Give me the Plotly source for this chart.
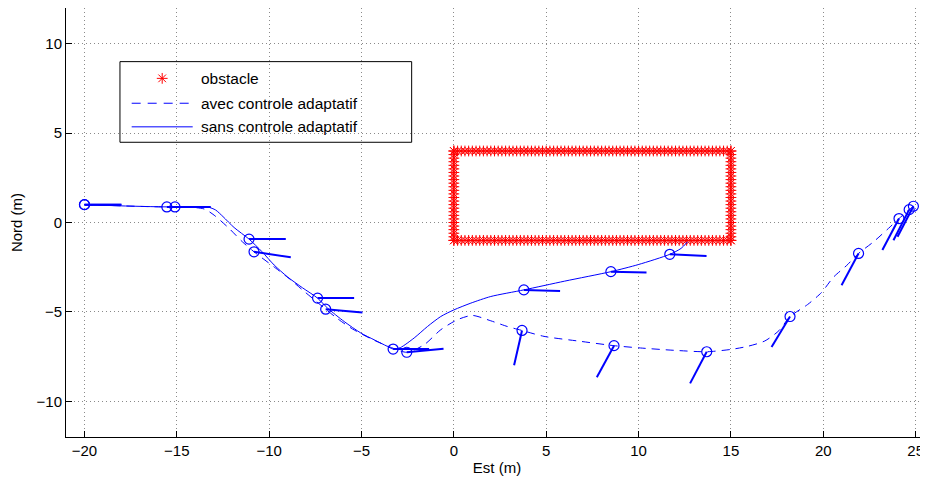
import numpy as np
import plotly.graph_objects as go

# ---------------- data ----------------
# obstacle rectangle (corners) and spacing of the obstacle points
obs_xmin, obs_xmax = 0.0, 15.0
obs_ymin, obs_ymax = -1.0, 4.0
obs_step = 0.2

# trajectory without adaptive control (solid)
sans_x = [-20.0, -18.0, -16.0, -15.1, -14.0, -13.3, -12.9, -12.5, -11.9, -11.09, -10.4, -9.73,
          -9.0, -8.2, -7.38, -6.84, -5.94, -5.04, -4.32, -3.6, -3.29, -2.9, -2.15, -1.43,
          -0.71, 0.0, 0.92, 2.0, 3.79, 6.0, 8.5, 10.0, 11.69, 12.3, 12.65]
sans_y = [1.0, 0.93, 0.88, 0.87, 0.87, 0.86, 0.7, 0.33, -0.28, -0.93, -1.62, -2.38,
          -3.05, -3.65, -4.23, -4.79, -5.54, -6.18, -6.56, -6.93, -7.08, -7.0, -6.46, -5.82,
          -5.26, -4.89, -4.51, -4.14, -3.77, -3.28, -2.75, -2.35, -1.78, -1.45, -1.08]

# trajectory with adaptive control (dashed)
avec_x = [-20.0, -17.0, -15.54, -14.2, -13.5, -12.98, -12.2, -11.45, -10.82, -9.64, -8.83,
          -8.2, -6.94, -6.3, -5.5, -4.5, -3.5, -2.55, -1.61, -0.71, 0.19, 1.0, 2.0, 2.9,
          3.69, 4.88, 6.87, 8.67, 10.1, 11.92, 13.69, 15.0, 15.9, 16.83, 17.6, 18.2, 19.15,
          19.9, 20.55, 21.27, 21.91, 22.72, 23.53, 24.1, 24.65, 24.88]
avec_y = [1.0, 0.9, 0.87, 0.85, 0.75, 0.41, -0.3, -1.08, -1.64, -2.56, -3.21,
          -3.77, -4.85, -5.38, -5.95, -6.5, -6.95, -7.26, -6.84, -6.0, -5.44, -5.2, -5.5, -5.82,
          -6.04, -6.37, -6.65, -6.89, -7.02, -7.15, -7.23, -7.1, -6.93, -6.63, -6.05, -5.26, -4.59,
          -3.92, -3.06, -2.4, -1.73, -1.08, -0.33, 0.22, 0.72, 0.91]

# vehicle positions (circles) and heading segment end points
sans_pos_x = [-20.0, -15.1, -11.09, -7.38, -3.29, 3.79, 8.5, 11.69]
sans_pos_y = [1.0, 0.87, -0.93, -4.23, -7.08, -3.77, -2.75, -1.78]
sans_head_x = [-18.0, -13.16, -9.1, -5.4, -1.34, 5.75, 10.43, 13.68]
sans_head_y = [1.0, 0.87, -0.93, -4.23, -7.08, -3.83, -2.8, -1.88]

avec_pos_x = [-20.0, -15.54, -10.82, -6.94, -2.55, 3.69, 8.67, 13.69, 18.2, 21.91, 24.1, 24.65, 24.88]
avec_pos_y = [1.0, 0.87, -1.64, -4.85, -7.26, -6.04, -6.89, -7.23, -5.26, -1.73, 0.22, 0.72, 0.91]
avec_head_x = [-18.0, -13.6, -8.83, -4.95, -0.56, 3.26, 7.74, 12.79, 17.2, 20.99, 23.2, 23.8, 24.02]
avec_head_y = [1.0, 0.87, -1.95, -5.04, -7.06, -7.99, -8.66, -9.0, -6.96, -3.51, -1.54, -0.99, -0.8]

x_ticks = [-20, -15, -10, -5, 0, 5, 10, 15, 20, 25]
y_ticks = [-10, -5, 0, 5, 10]

legend_labels = ["obstacle", "avec controle adaptatif", "sans controle adaptatif"]

# ---------------- build ----------------
BLUE = "#0000FF"
RED = "#FF0000"
FONT = "Liberation Sans, Arial, sans-serif"

xs_top = np.arange(obs_xmin, obs_xmax + 1e-9, obs_step)
ys_side = np.arange(obs_ymin, obs_ymax + 1e-9, obs_step)
obs_x = np.concatenate([xs_top, xs_top, np.full_like(ys_side, obs_xmin), np.full_like(ys_side, obs_xmax)])
obs_y = np.concatenate([np.full_like(xs_top, obs_ymax), np.full_like(xs_top, obs_ymin), ys_side, ys_side])


def segments(x0, y0, x1, y1):
    sx, sy = [], []
    for a, b, c, d in zip(x0, y0, x1, y1):
        sx += [a, c, None]
        sy += [b, d, None]
    return sx, sy


ASTER = dict(symbol="asterisk-open", size=9, color=RED, line=dict(color=RED, width=1))

fig = go.Figure()
fig.add_trace(go.Scatter(x=obs_x, y=obs_y, mode="markers", name=legend_labels[0],
                         marker=ASTER, showlegend=False))
fig.add_trace(go.Scatter(x=avec_x, y=avec_y, mode="lines", name=legend_labels[1], showlegend=False,
                         line=dict(color=BLUE, width=1, dash="8px,6px", shape="spline", smoothing=0.7)))
fig.add_trace(go.Scatter(x=sans_x, y=sans_y, mode="lines", name=legend_labels[2], showlegend=False,
                         line=dict(color=BLUE, width=1, shape="spline", smoothing=0.7)))

hx, hy = segments(sans_pos_x, sans_pos_y, sans_head_x, sans_head_y)
hx2, hy2 = segments(avec_pos_x, avec_pos_y, avec_head_x, avec_head_y)
fig.add_trace(go.Scatter(x=hx + hx2, y=hy + hy2, mode="lines", showlegend=False,
                         line=dict(color=BLUE, width=2), hoverinfo="skip"))
fig.add_trace(go.Scatter(x=sans_pos_x + avec_pos_x, y=sans_pos_y + avec_pos_y, mode="markers",
                         showlegend=False,
                         marker=dict(symbol="circle-open", size=10, color=BLUE,
                                     line=dict(color=BLUE, width=1.2))))

# ---- legend box (drawn in plot-fraction coordinates, MATLAB style) ----
L_X0, L_X1, L_Y0, L_Y1 = 0.0626, 0.401, 0.687, 0.875
ROW_Y = [0.836, 0.778, 0.723]
SAMPLE_X0, SAMPLE_X1, TEXT_X = 0.0762, 0.147, 0.1546

# overlay axis for the legend asterisk symbol
fig.add_trace(go.Scatter(x=[(SAMPLE_X0 + SAMPLE_X1) / 2], y=[ROW_Y[0]], mode="markers",
                         marker=ASTER, xaxis="x2", yaxis="y2", showlegend=False, hoverinfo="skip"))

shapes = [
    dict(type="rect", xref="paper", yref="paper", x0=L_X0, x1=L_X1, y0=L_Y0, y1=L_Y1,
         fillcolor="white", line=dict(color="black", width=1), layer="between"),
    dict(type="line", xref="paper", yref="paper", x0=SAMPLE_X0, x1=SAMPLE_X1, y0=ROW_Y[1], y1=ROW_Y[1],
         line=dict(color=BLUE, width=1, dash="9px,7px")),
    dict(type="line", xref="paper", yref="paper", x0=SAMPLE_X0, x1=SAMPLE_X1, y0=ROW_Y[2], y1=ROW_Y[2],
         line=dict(color=BLUE, width=1)),
]
annotations = [
    dict(xref="paper", yref="paper", x=TEXT_X, y=ry, text=lab, showarrow=False,
         xanchor="left", yanchor="middle", font=dict(family=FONT, size=15.5, color="black"))
    for ry, lab in zip(ROW_Y, legend_labels)
]

# the page body has an 8px margin, so the figure is sized to fit the window from there
fig.update_layout(
    width=920, height=473,
    margin=dict(l=58, r=0, t=0, b=44),
    paper_bgcolor="white", plot_bgcolor="white",
    font=dict(family=FONT, size=15, color="black"),
    showlegend=False,
    shapes=shapes, annotations=annotations,
    xaxis2=dict(domain=[0, 1], range=[0, 1], overlaying="x", visible=False, fixedrange=True),
    yaxis2=dict(domain=[0, 1], range=[0, 1], overlaying="y", visible=False, fixedrange=True),
    xaxis=dict(range=[-21, 25.67], tickvals=x_ticks, ticks="inside", ticklen=6,
               tickcolor="black", showline=True, linecolor="black", linewidth=1,
               showgrid=True, gridcolor="#8a8a8a", griddash="1px,3px", gridwidth=1,
               zeroline=False, automargin=False,
               title=dict(text="Est (m)", standoff=4, font=dict(size=15)),
               tickfont=dict(size=15)),
    yaxis=dict(range=[-12, 12], tickvals=y_ticks, ticks="inside", ticklen=6,
               tickcolor="black", showline=True, linecolor="black", linewidth=1,
               showgrid=True, gridcolor="#8a8a8a", griddash="1px,3px", gridwidth=1,
               zeroline=False, automargin=False,
               title=dict(text="Nord (m)", standoff=12, font=dict(size=15)),
               tickfont=dict(size=15)),
)

fig.write_html("out.html")
